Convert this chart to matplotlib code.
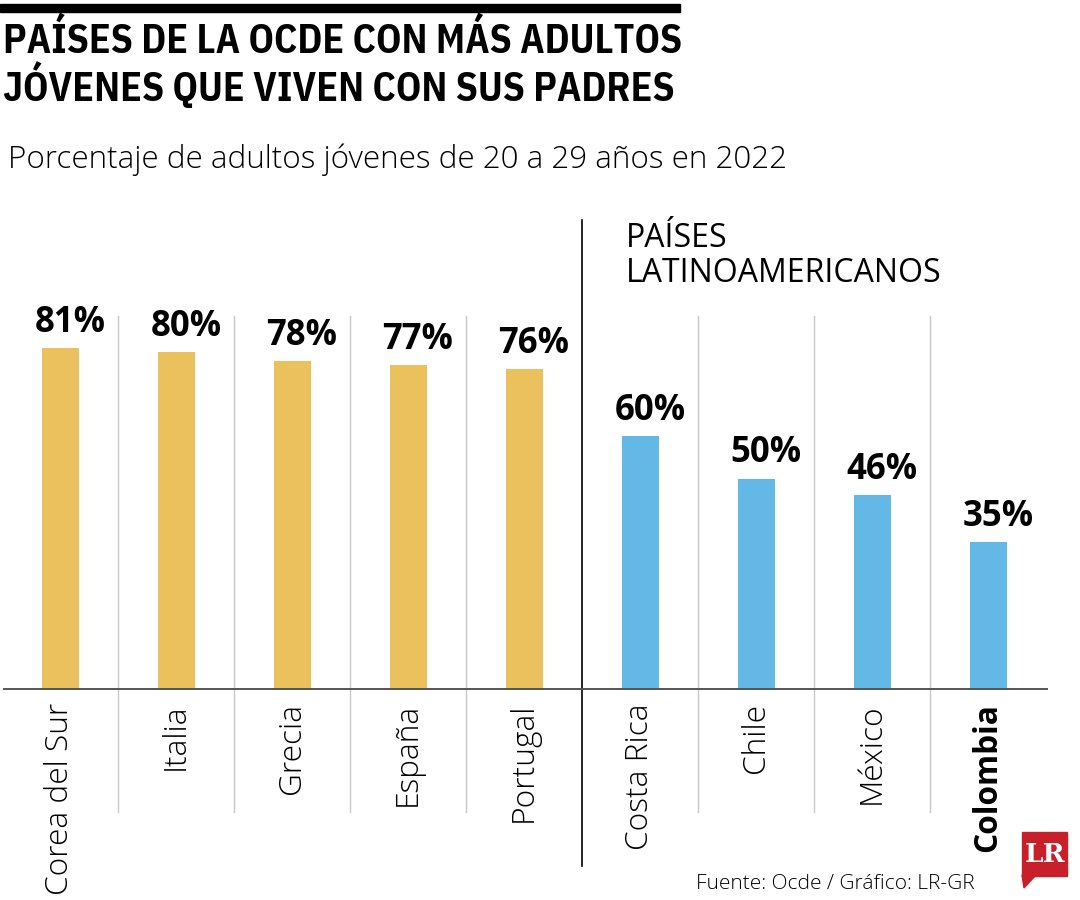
import matplotlib
matplotlib.use("Agg")
import matplotlib.pyplot as plt
from matplotlib.patches import Polygon, Rectangle

categories = ["Corea del Sur", "Italia", "Grecia", "España", "Portugal",
              "Costa Rica", "Chile", "México", "Colombia"]
values = [81, 80, 78, 77, 76, 60, 50, 46, 35]
groups = ["ocde"] * 5 + ["latam"] * 4
colors = {"ocde": "#EBC15E", "latam": "#63B8E6"}

W, H = 1080, 900
fig = plt.figure(figsize=(W / 100, H / 100), dpi=100)

def fx(px):
    return px / W
def fy(py):
    return 1 - py / H

ppu = 4.21          # pixels per percentage point
base_px = 689
x0_px, step_px = 60, 116
left_px, right_px = 3, 1048
top_px, bot_px = 200, 895

ax = fig.add_axes([fx(left_px), fy(bot_px), (right_px - left_px) / W, (bot_px - top_px) / H])
ax.set_xlim((left_px - x0_px) / step_px, (right_px - x0_px) / step_px)
ax.set_ylim(-(bot_px - base_px) / ppu, (base_px - top_px) / ppu)
ax.axis("off")

def yd(py):
    return (base_px - py) / ppu

xs = list(range(len(categories)))
ax.bar(xs, values, width=37 / step_px, color=[colors[g] for g in groups], zorder=2)

for i in range(len(categories) - 1):
    xsep = i + 0.5
    if i == 4:
        ax.plot([xsep, xsep], [yd(866), yd(220)], color="black", lw=1.2, zorder=3)
    else:
        ax.plot([xsep, xsep], [yd(812), yd(316)], color="#c8c8c8", lw=1.0, zorder=1)

ax.axhline(0, color="#555555", lw=1.4, zorder=3)

for x, v, c in zip(xs, values, categories):
    ax.text(x + 10 / step_px, v + 7 / ppu, f"{v}%", ha="center", va="bottom", fontsize=25,
            fontweight="bold", family="Open Sans", color="black")
    ax.text(x, -14 / ppu, c, rotation=90, ha="center", va="top", fontsize=22.8,
            family="Open Sans", fontweight="bold" if c == "Colombia" else "light",
            color="black")

fig.text(fx(626), fy(222), "PAÍSES\nLATINOAMERICANOS", ha="left", va="top",
         fontsize=23, family="Open Sans", linespacing=1.1)

fig.add_artist(Rectangle((fx(0), fy(12)), fx(680), 8 / H, color="black",
                         transform=fig.transFigure))

fig.text(fx(3), fy(101), "PAÍSES DE LA OCDE CON MÁS ADULTOS\nJÓVENES QUE VIVEN CON SUS PADRES",
         ha="left", va="baseline", fontsize=28.5, fontweight="bold",
         family="IBM Plex Sans Condensed", linespacing=1.03)

fig.text(fx(8), fy(160), "Porcentaje de adultos jóvenes de 20 a 29 años en 2022",
         ha="left", va="center", fontsize=22.6, family="Open Sans", fontweight="light")

fig.text(fx(975), fy(884), "Fuente: Ocde / Gráfico: LR-GR", ha="right", va="center",
         fontsize=15, family="Open Sans", fontweight="light")

red = "#C8202A"
fig.add_artist(Rectangle((fx(1022), fy(876)), 45 / W, 44 / H, color=red,
                         transform=fig.transFigure))
fig.add_artist(Polygon([(fx(1022), fy(875)), (fx(1036), fy(875)), (fx(1024), fy(888))],
                       closed=True, color=red, transform=fig.transFigure))
fig.text(fx(1044.5), fy(855), "LR", ha="center", va="center", fontsize=19,
         fontweight="bold", family="DejaVu Serif", color="white")

fig.savefig("out.png", dpi=100)
